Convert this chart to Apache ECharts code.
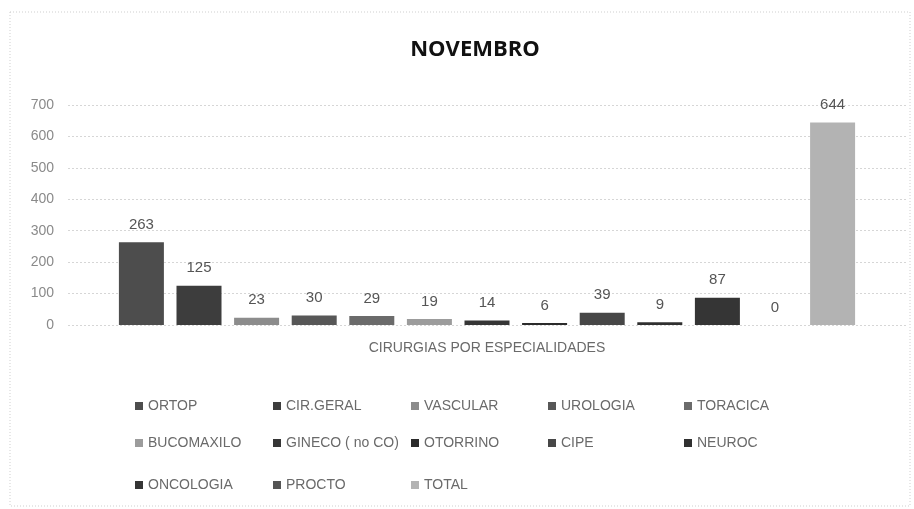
<!DOCTYPE html>
<html>
<head>
<meta charset="utf-8">
<script src="https://cdn.jsdelivr.net/npm/echarts@6/dist/echarts.min.js"></script>
<style>
  html, body { margin: 0; padding: 0; background: #fff; }
  #chart { width: 914px; height: 509px; }
</style>
</head>
<body>
<div id="chart"></div>
<script>
// Surgeries per specialty, November
const categories = ['CIRURGIAS POR ESPECIALIDADES'];
const specialties = ['ORTOP', 'CIR.GERAL', 'VASCULAR', 'UROLOGIA', 'TORACICA',
  'BUCOMAXILO', 'GINECO ( no CO)', 'OTORRINO', 'CIPE', 'NEUROC',
  'ONCOLOGIA', 'PROCTO', 'TOTAL'];
const counts = [263, 125, 23, 30, 29, 19, 14, 6, 39, 9, 87, 0, 644];
const yTicks = { min: 0, max: 700, interval: 100 };

const shades = ['#4d4d4d', '#3d3d3d', '#8c8c8c', '#575757', '#6b6b6b',
  '#9c9c9c', '#363636', '#2b2b2b', '#474747', '#303030',
  '#353535', '#555555', '#b3b3b3'];

const FONT = "'Liberation Sans Narrow', 'Liberation Sans', sans-serif";
const TXT = '#6a6a6a';

// legend laid out as a 5-column grid
const legendCols = [130, 268, 406, 543, 679];
const legendRows = [394, 431, 473];

const chart = echarts.init(document.getElementById('chart'));

const series = specialties.map((name, i) => ({
  name: name,
  type: 'bar',
  data: [counts[i]],
  barWidth: 45,
  barGap: '28%',
  itemStyle: { color: shades[i] },
  label: {
    show: true,
    position: 'top',
    distance: 10,
    fontFamily: FONT,
    fontSize: 15,
    color: '#555'
  }
}));

const legends = specialties.map((name, i) => ({
  data: [name],
  left: legendCols[i % 5],
  top: legendRows[Math.floor(i / 5)],
  itemWidth: 8,
  itemHeight: 8,
  icon: 'rect',
  textStyle: { fontFamily: FONT, fontSize: 14, color: TXT },
  selectedMode: false
}));

chart.setOption({
  animation: false,
  backgroundColor: '#fff',
  title: {
    text: 'NOVEMBRO',
    left: 470,
    top: 34,
    textAlign: 'center',
    textStyle: { fontFamily: "'Open Sans', sans-serif", fontWeight: 'bold', fontSize: 22, color: '#111' }
  },
  graphic: [{
    type: 'rect',
    shape: { x: 10, y: 12, width: 900, height: 494 },
    style: { fill: 'none', stroke: '#cfcfcf', lineWidth: 1, lineDash: [1, 2] },
    silent: true
  }],
  legend: legends,
  grid: { left: 68, right: 8, top: 105, bottom: 184 },
  xAxis: {
    type: 'category',
    data: categories,
    axisLine: { show: false },
    axisTick: { show: false },
    axisLabel: { fontFamily: FONT, fontSize: 14, color: TXT, margin: 16 }
  },
  yAxis: {
    type: 'value',
    min: yTicks.min,
    max: yTicks.max,
    interval: yTicks.interval,
    axisLine: { show: false },
    axisTick: { show: false },
    axisLabel: { fontFamily: FONT, fontSize: 14, color: '#8a8a8a', margin: 14 },
    splitLine: { lineStyle: { color: '#d6d6d6', type: [2, 2] } }
  },
  series: series
});
</script>
</body>
</html>
